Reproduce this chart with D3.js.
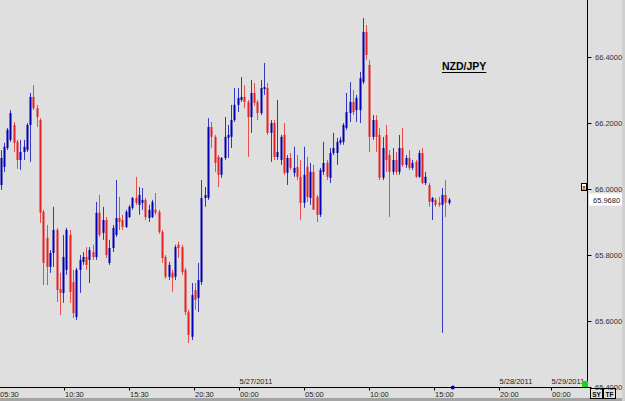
<!DOCTYPE html>
<html><head><meta charset="utf-8">
<script src="https://cdn.jsdelivr.net/npm/d3@7"></script>
<style>body{margin:0;overflow:hidden;background:#dfdfdf}svg{display:block}</style>
</head><body><svg id="c" width="625" height="401"></svg>
<script>
const title = "NZD/JPY";
const lastPrice = 65.968;
const opens = [
66.012,66.067,66.124,66.149,66.194,66.143,66.088,66.112,66.118,66.194,
66.279,66.245,66.209,65.931,65.852,65.764,65.806,65.876,65.697,65.685,
65.755,65.861,65.718,65.612,65.755,65.779,65.794,65.785,65.809,65.794,
65.928,65.867,65.906,65.776,65.821,65.861,65.912,65.906,65.885,65.915,
65.943,65.973,65.952,65.958,65.967,65.912,65.915,65.937,65.931,65.870,
65.794,65.734,65.746,65.734,65.831,65.824,65.755,65.627,65.552,65.694,
65.670,65.718,65.973,65.973,66.188,66.158,66.097,66.043,66.094,66.155,
66.158,66.209,66.255,66.270,66.279,66.264,66.218,66.291,66.264,66.230,
66.303,66.306,66.170,66.200,66.097,66.088,66.164,66.049,66.094,66.049,
66.067,66.037,65.958,66.067,65.973,66.052,65.976,65.922,66.052,66.079,
66.034,66.109,66.109,66.140,66.143,66.185,66.230,66.264,66.239,66.239,
66.324,66.476,66.376,66.158,66.209,66.164,66.034,66.164,66.103,66.052,
66.088,66.052,66.124,66.073,66.094,66.064,66.082,66.037,66.109,66.018,
66.012,65.961,65.967,65.958,65.952,65.982,65.958];
const highs = [
66.118,66.140,66.185,66.239,66.203,66.149,66.149,66.149,66.200,66.291,
66.315,66.255,66.215,65.937,65.891,65.815,65.946,65.882,65.746,65.861,
65.882,65.876,65.755,65.761,65.800,65.809,65.824,65.824,65.831,65.961,
65.982,65.946,65.915,65.846,65.891,66.027,65.976,65.922,65.937,65.952,
65.976,66.037,66.006,66.003,65.973,65.952,65.967,65.988,65.937,65.876,
65.800,65.779,65.755,65.831,65.840,65.831,65.761,65.634,65.715,65.715,
65.776,66.027,66.006,66.215,66.203,66.164,66.103,66.097,66.218,66.194,
66.255,66.306,66.306,66.339,66.315,66.270,66.330,66.321,66.270,66.330,
66.382,66.321,66.209,66.209,66.270,66.164,66.200,66.103,66.109,66.128,
66.103,66.088,66.128,66.097,66.079,66.073,65.982,66.064,66.143,66.088,
66.124,66.170,66.155,66.158,66.200,66.291,66.324,66.300,66.285,66.355,
66.518,66.497,66.391,66.224,66.224,66.185,66.158,66.194,66.118,66.124,
66.112,66.164,66.185,66.103,66.118,66.088,66.088,66.118,66.124,66.052,
66.018,65.976,65.973,65.976,66.003,66.027,65.973];
const lows = [
65.997,66.052,66.118,66.143,66.112,66.061,66.058,66.088,66.112,66.082,
66.239,66.188,65.897,65.709,65.709,65.746,65.764,65.658,65.618,65.655,
65.740,65.655,65.609,65.603,65.685,65.770,65.755,65.715,65.785,65.785,
65.855,65.846,65.791,65.770,65.809,65.855,65.876,65.876,65.882,65.912,
65.937,65.952,65.922,65.937,65.906,65.900,65.912,65.922,65.864,65.776,
65.728,65.724,65.688,65.724,65.791,65.740,65.618,65.533,65.542,65.634,
65.627,65.709,65.946,65.967,66.124,66.052,66.006,66.034,66.088,66.094,
66.124,66.203,66.233,66.264,66.245,66.097,66.170,66.252,66.209,66.224,
66.285,66.164,66.082,66.088,66.088,66.073,66.043,66.012,66.058,66.037,
66.027,65.906,65.943,65.961,65.952,65.937,65.900,65.915,66.043,66.027,
66.018,66.103,66.073,66.134,66.134,66.179,66.203,66.224,66.203,66.200,
66.318,66.391,66.112,66.149,66.112,66.027,66.027,66.052,65.915,66.043,
66.043,66.043,66.067,66.064,66.058,66.058,66.034,66.034,66.015,66.012,
65.946,65.906,65.946,65.946,65.564,65.915,65.952];
const closes = [
66.094,66.128,66.179,66.230,66.140,66.088,66.112,66.128,66.194,66.279,
66.245,66.218,65.928,65.776,65.764,65.806,65.876,65.694,65.685,65.794,
65.876,65.688,65.624,65.755,65.785,65.794,65.770,65.815,65.794,65.928,
65.861,65.906,65.800,65.821,65.882,65.912,65.900,65.885,65.931,65.946,
65.973,65.958,65.982,65.967,65.915,65.937,65.961,65.928,65.870,65.791,
65.734,65.770,65.731,65.824,65.821,65.749,65.627,65.558,65.679,65.664,
65.724,65.973,65.982,66.188,66.158,66.079,66.043,66.094,66.158,66.164,
66.209,66.255,66.276,66.279,66.264,66.218,66.291,66.261,66.230,66.306,
66.309,66.170,66.200,66.097,66.112,66.158,66.049,66.094,66.064,66.064,
66.037,65.958,66.043,65.976,66.052,65.937,65.922,66.058,66.079,66.037,
66.109,66.124,66.143,66.149,66.194,66.233,66.264,66.233,66.276,66.336,
66.476,66.406,66.158,66.209,66.158,66.034,66.124,66.088,66.052,66.088,
66.052,66.124,66.073,66.094,66.064,66.079,66.037,66.109,66.018,66.037,
65.961,65.973,65.952,65.952,65.982,65.958,65.968];
const yTicks = [65.4, 65.6, 65.8, 66.0, 66.2, 66.4];
const xTickHours = [0, 5, 10, 15, 18.5, 23.5, 28.5, 33.5, 38.5, 42.5];
const xTickLabels = ["05:30","10:30","15:30","20:30","00:00","05:00","10:00","15:00","20:00","00:00"];
const dateHours = [18.5, 38.5, 42.5];
const dateLabels = ["5/27/2011","5/28/2011","5/29/2011"];

const svg = d3.select("#c");
const W = 625, H = 401;
const axisX = 587.5, axisY = 387.5;
const FONT = "Liberation Sans, Arial, sans-serif";

svg.append("rect").attr("width", W).attr("height", H).attr("fill", "#dfdfdf");
svg.append("rect").attr("x", 0).attr("y", 398).attr("width", W).attr("height", 3).attr("fill", "#a4a4a4");
svg.append("rect").attr("x", 622).attr("y", 0).attr("width", 3).attr("height", H).attr("fill", "#cfcfcf");

const y = d3.scaleLinear().domain([65.4, 66.4]).range([387, 57]);
const xi = d3.scaleLinear().domain([0, opens.length - 1]).range([0.5, 448.5]);
const xt = d3.scaleLinear().domain([0, 42.5]).range([-1, 550.5]);

const candles = opens.map((o, i) => ({i, o, h: highs[i], l: lows[i], c: closes[i]}));
const BLUE = "#0000b4", RED = "#ea2020";
const g = svg.append("g");
g.selectAll("line.w").data(candles).join("line")
  .attr("x1", d => Math.round(xi(d.i)) + 0.5).attr("x2", d => Math.round(xi(d.i)) + 0.5)
  .attr("y1", d => y(d.h)).attr("y2", d => y(d.l))
  .attr("stroke", d => d.c >= d.o ? BLUE : RED).attr("stroke-width", 1).attr("opacity", 0.75);
g.selectAll("rect.b").data(candles).join("rect")
  .attr("x", d => Math.round(xi(d.i)) - 0.5)
  .attr("width", 2)
  .attr("y", d => y(Math.max(d.o, d.c)))
  .attr("height", d => Math.max(1, Math.abs(y(d.o) - y(d.c))))
  .attr("fill", d => d.c >= d.o ? BLUE : RED);

// right axis
svg.append("line").attr("x1", axisX).attr("x2", axisX).attr("y1", 0).attr("y2", 388)
  .attr("stroke", "#000").attr("stroke-width", 1);
const ya = svg.append("g");
yTicks.forEach(v => {
  const yy = Math.round(y(v)) + 0.5;
  ya.append("line").attr("x1", axisX).attr("x2", axisX + 4).attr("y1", yy).attr("y2", yy).attr("stroke", "#000");
  ya.append("text").attr("x", 595).attr("y", yy + 2.5).text(v.toFixed(4))
    .attr("font-family", FONT).attr("font-size", 7.5).attr("fill", "#333");
});

// last price box
const ly = y(lastPrice);
svg.append("rect").attr("x", 589).attr("y", ly - 6).attr("width", 33).attr("height", 12).attr("fill", "#fff");
svg.append("text").attr("x", 593).attr("y", ly + 3).text(lastPrice.toFixed(4))
  .attr("font-family", FONT).attr("font-size", 7.5).attr("fill", "#222");

// small marker box near axis
svg.append("rect").attr("x", 581.5).attr("y", y(66.0) - 5.5).attr("width", 5).attr("height", 7)
  .attr("fill", "#fff").attr("stroke", "#000").attr("stroke-width", 1);
svg.append("text").attr("x", 582.3).attr("y", y(66.0) + 0.8).text("8")
  .attr("font-family", FONT).attr("font-size", 6).attr("fill", "#000");

// bottom axis
svg.append("line").attr("x1", 0).attr("x2", axisX).attr("y1", axisY).attr("y2", axisY)
  .attr("stroke", "#000").attr("stroke-width", 1);
const xa = svg.append("g");
xTickHours.forEach((h, k) => {
  const xx = Math.round(xt(h)) + 0.5;
  xa.append("line").attr("x1", xx).attr("x2", xx).attr("y1", axisY).attr("y2", axisY + 3).attr("stroke", "#000");
  xa.append("text").attr("x", xx + 0.5).attr("y", 396.5).text(xTickLabels[k])
    .attr("font-family", FONT).attr("font-size", 7.5).attr("fill", "#222");
});
dateHours.forEach((h, k) => {
  xa.append("text").attr("x", Math.round(xt(h)) + 0.5).attr("y", 384).text(dateLabels[k])
    .attr("font-family", FONT).attr("font-size", 7.5).attr("fill", "#222");
});

// green square and blue dot
svg.append("rect").attr("x", 582).attr("y", 381).attr("width", 6).attr("height", 6).attr("fill", "#1fd21f");
svg.append("circle").attr("cx", xi(137.3)).attr("cy", 387.5).attr("r", 2).attr("fill", "#0000a0");

// SY / TF boxes
[["SY", 590.5], ["TF", 603.5]].forEach(([t, bx]) => {
  svg.append("rect").attr("x", bx).attr("y", 388.5).attr("width", 12).attr("height", 10)
    .attr("fill", "none").attr("stroke", "#000");
  svg.append("text").attr("x", bx + 6).attr("y", 396.5).attr("text-anchor", "middle").text(t)
    .attr("font-family", FONT).attr("font-size", 6.5).attr("font-weight", "bold").attr("fill", "#000");
});

// title
const tt = svg.append("text").attr("x", 442).attr("y", 70).text(title)
  .attr("font-family", FONT).attr("font-size", 10.5).attr("font-weight", "bold").attr("fill", "#000");
const tw = tt.node().getComputedTextLength();
svg.append("line").attr("x1", 442).attr("x2", 442 + tw).attr("y1", 72.5).attr("y2", 72.5)
  .attr("stroke", "#000").attr("stroke-width", 1);
</script></body></html>
